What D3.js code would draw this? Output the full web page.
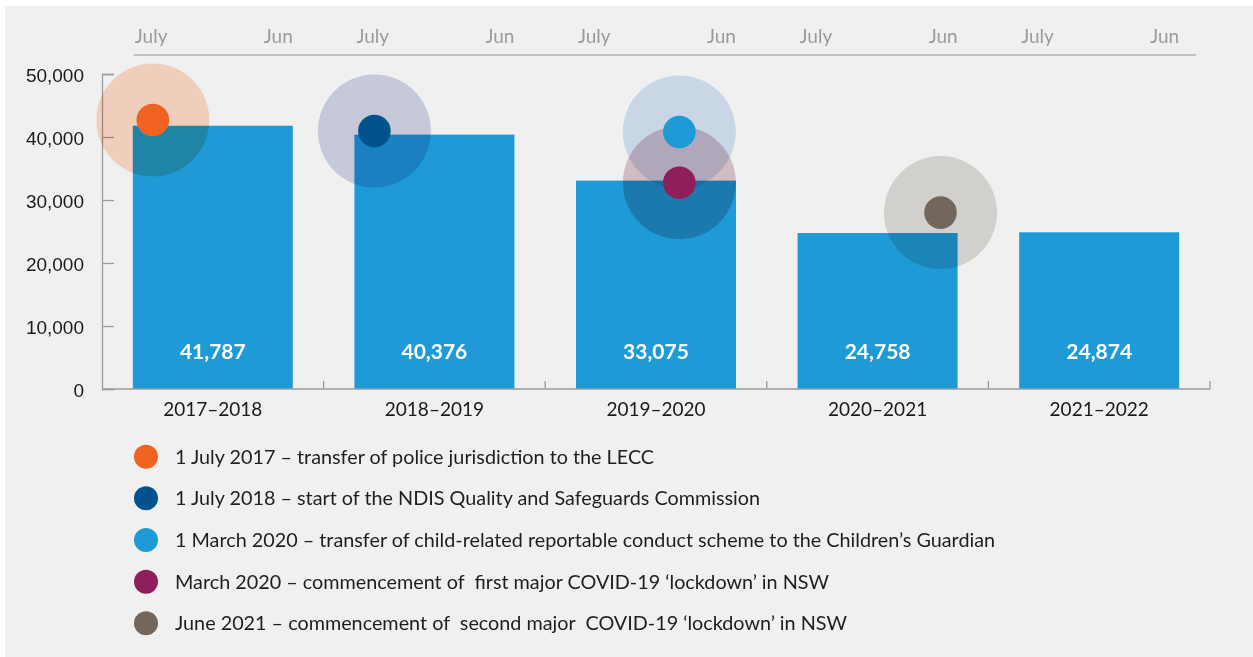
<!DOCTYPE html>
<html>
<head>
<meta charset="utf-8">
<script src="https://cdn.jsdelivr.net/npm/d3@7"></script>
<style>
  html, body { margin: 0; padding: 0; background: #ffffff; }
  svg { display: block; font-family: Lato, "Open Sans", sans-serif; }
  .halo { mix-blend-mode: multiply; }
</style>
</head>
<body>
<svg id="chart" width="1253" height="657"></svg>
<script>
// Financial years and yearly totals
const years = ["2017–2018", "2018–2019", "2019–2020", "2020–2021", "2021–2022"];
const totals = [41787, 40376, 33075, 24758, 24874];
const yTicks = [0, 10000, 20000, 30000, 40000, 50000];
const periodLabels = ["July", "Jun"];

// Key events: which year, months after 1 July, height of the marker
const eventLabels = [
  "1 July 2017 – transfer of police jurisdiction to the LECC",
  "1 July 2018 – start of the NDIS Quality and Safeguards Commission",
  "1 March 2020 – transfer of child-related reportable conduct scheme to the Children’s Guardian",
  "March 2020 – commencement of  first major COVID-19 ‘lockdown’ in NSW",
  "June 2021 – commencement of  second major  COVID-19 ‘lockdown’ in NSW"
];
const eventYears = ["2017–2018", "2018–2019", "2019–2020", "2019–2020", "2020–2021"];
const eventMonths = [0, 0, 8, 8, 11.8];
const eventLevels = [42700, 40950, 40800, 32750, 28000];
const eventColors = ["#f26322", "#02538d", "#1e9ad6", "#8e1f5b", "#73675d"];
const haloColors = ["#fedcc7", "#d2d6e7", "#d6e4f5", "#dfc8cf", "#e0ddda"];

const svg = d3.select("#chart");

// panel background
svg.append("rect")
  .attr("x", 5).attr("y", 6).attr("width", 1248).attr("height", 651)
  .attr("fill", "#f0f0f0");

const x = d3.scaleBand().domain(years).range([102, 1210])
  .paddingInner(0.278).paddingOuter(0.139);
const y = d3.scaleLinear().domain([0, 50000]).range([389, 74]);
const month = d3.scaleLinear().domain([0, 12]).range([20, 145]);
const bw = x.bandwidth();
const axisColor = "#9b9b9b";

// y axis with inward ticks
const yAxis = svg.append("g")
  .attr("transform", "translate(102,0)")
  .call(d3.axisLeft(y).tickValues(yTicks).tickFormat(d3.format(","))
    .tickSizeInner(-12).tickSizeOuter(-12).tickPadding(18));
yAxis.select(".domain").attr("stroke", axisColor).attr("stroke-width", 1.3);
yAxis.selectAll(".tick line").attr("stroke", axisColor).attr("stroke-width", 1.3);
yAxis.selectAll(".tick text")
  .attr("fill", "#1a1a1a").style("font-size", "19px").attr("dy", "0.38em");

// bars
svg.append("g").selectAll("rect")
  .data(years)
  .join("rect")
  .attr("x", d => x(d))
  .attr("y", (d, i) => y(totals[i]))
  .attr("width", bw)
  .attr("height", (d, i) => y(0) - y(totals[i]))
  .attr("fill", "#1e9ad6");

// bottom axis: baseline with separators between years
const sepX = d => x(d) + bw + x.step() * x.paddingInner() / 2;
const xAxis = svg.append("g");
xAxis.append("line")
  .attr("x1", 102).attr("x2", sepX(years[years.length - 1]))
  .attr("y1", y(0)).attr("y2", y(0))
  .attr("stroke", axisColor).attr("stroke-width", 1.3);
xAxis.selectAll("line.sep")
  .data(years)
  .join("line")
  .attr("class", "sep")
  .attr("x1", sepX).attr("x2", sepX)
  .attr("y1", y(0)).attr("y2", y(0) - 8)
  .attr("stroke", axisColor).attr("stroke-width", 1.3);
xAxis.selectAll("text")
  .data(years)
  .join("text")
  .attr("x", d => x(d) + bw / 2)
  .attr("y", 416)
  .attr("text-anchor", "middle")
  .attr("fill", "#1a1a1a")
  .style("font-size", "19px")
  .text(d => d);

// top period axis: July ... Jun over each year
const periodAxis = svg.append("g");
periodAxis.append("line")
  .attr("x1", x(years[0]) + 1).attr("x2", x(years[years.length - 1]) + bw + 17)
  .attr("y1", 55).attr("y2", 55)
  .attr("stroke", "#b4b4b4").attr("stroke-width", 1.3);
years.forEach(yr => {
  periodAxis.append("text")
    .attr("x", x(yr) + 2).attr("y", 43)
    .attr("fill", "#9a9a9a").style("font-size", "19px")
    .text(periodLabels[0]);
  periodAxis.append("text")
    .attr("x", x(yr) + bw).attr("y", 43)
    .attr("text-anchor", "end")
    .attr("fill", "#9a9a9a").style("font-size", "19px")
    .text(periodLabels[1]);
});

// event markers: translucent halo plus solid dot
const ex = i => x(eventYears[i]) + month(eventMonths[i]);
svg.append("g").selectAll("circle")
  .data(eventLabels)
  .join("circle")
  .attr("class", "halo")
  .attr("cx", (d, i) => ex(i))
  .attr("cy", (d, i) => y(eventLevels[i]))
  .attr("r", 56.5)
  .attr("fill", (d, i) => haloColors[i]);
svg.append("g").selectAll("circle")
  .data(eventLabels)
  .join("circle")
  .attr("cx", (d, i) => ex(i))
  .attr("cy", (d, i) => y(eventLevels[i]))
  .attr("r", 16.3)
  .attr("fill", (d, i) => eventColors[i]);

// totals inside bars
svg.append("g").selectAll("text")
  .data(years)
  .join("text")
  .attr("x", d => x(d) + bw / 2)
  .attr("y", 359)
  .attr("text-anchor", "middle")
  .attr("fill", "#ffffff")
  .style("font-size", "21px")
  .style("font-weight", "bold")
  .text((d, i) => d3.format(",")(totals[i]));

// legend
const legend = svg.append("g").selectAll("g")
  .data(eventLabels)
  .join("g")
  .attr("transform", (d, i) => `translate(0,${456.7 + i * 41.65})`);
legend.append("circle")
  .attr("cx", 146).attr("cy", 0).attr("r", 12)
  .attr("fill", (d, i) => eventColors[i]);
legend.append("text")
  .attr("x", 175).attr("y", 0).attr("dy", "0.35em")
  .attr("fill", "#1e1e1e")
  .style("font-size", "19.8px")
  .style("white-space", "pre")
  .text(d => d);
</script>
</body>
</html>
